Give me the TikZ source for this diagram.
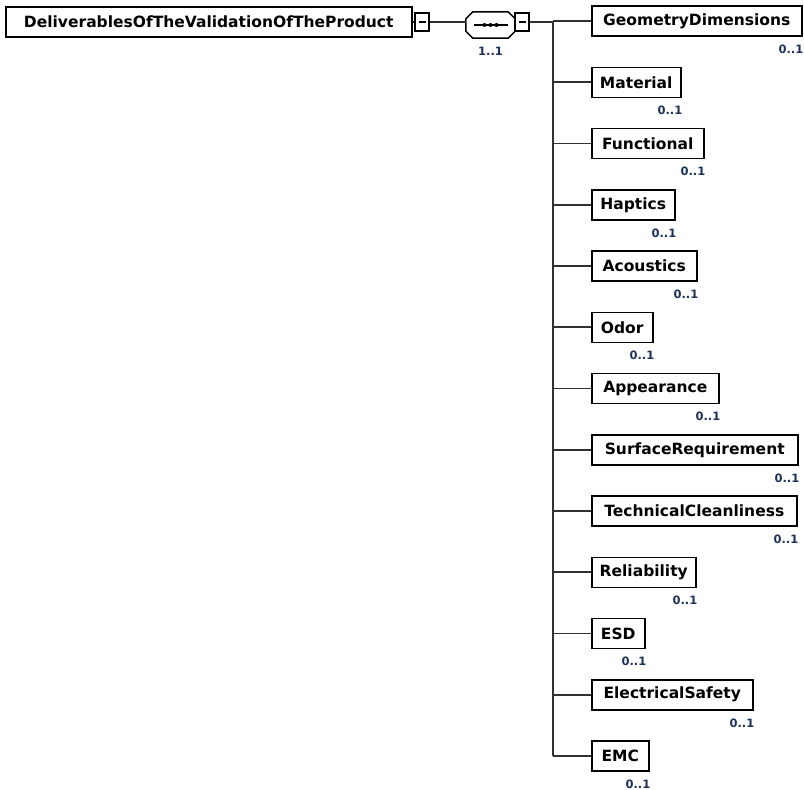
\documentclass[tikz,border=0pt]{standalone}
\usepackage{fontspec}
\newfontfamily\schemafont{DejaVu Sans}
\usetikzlibrary{calc}
\definecolor{linegray}{RGB}{50,50,50}
\definecolor{occurs}{RGB}{28,48,92}
\tikzset{
  elem/.style={draw,line width=1.5pt,inner xsep=0pt,minimum height=30pt,font=\schemafont\bfseries\fontsize{15.5}{17}\selectfont,anchor=west},
  minusbox/.style={draw,line width=1.2pt,minimum width=14pt,minimum height=18pt,inner sep=0pt},
  conn/.style={linegray,line width=1.6pt},
  card/.style={font=\schemafont\bfseries\fontsize{11.5}{12}\selectfont,text=occurs,inner sep=0pt,anchor=north east}
}

\begin{document}
\begin{tikzpicture}[x=1pt,y=-1pt]
\useasboundingbox (0,0) rectangle (804,790);
% root element and its collapse box
\node[elem,minimum width=406pt] (root) at (5,22) {DeliverablesOfTheValidationOfTheProduct};
\node[minusbox] (rootmin) at (422,22) {};
\draw[line width=1.2pt] ($(rootmin.center)+(-3.5,0)$) -- ($(rootmin.center)+(3.5,0)$);
% sequence compositor
\node[minimum width=49pt,minimum height=26pt,inner sep=0pt] (seq) at (490.5,25) {};
\draw[line width=1.5pt] ($(seq.north west)+(7,0)$) -- ($(seq.north east)+(-7,0)$) -- ($(seq.north east)+(0,7)$)
  -- ($(seq.south east)+(0,-7)$) -- ($(seq.south east)+(-7,0)$) -- ($(seq.south west)+(7,0)$)
  -- ($(seq.south west)+(0,-7)$) -- ($(seq.north west)+(0,7)$) -- cycle;
\draw[line width=1.5pt] ($(seq.center)+(-17,0)$) -- ($(seq.center)+(17,0)$);
\foreach \dx in {-6,0,6}
  \fill ($(seq.center)+(\dx,0)$) circle (2pt);
\node[card,anchor=north] at ($(seq.south)+(0,9)$) {1..1};
\node[minusbox] (seqmin) at (522,22) {};
\draw[line width=1.2pt] ($(seqmin.center)+(-3.5,0)$) -- ($(seqmin.center)+(3.5,0)$);
\coordinate (bus) at (553,22);
% connectors
\draw[conn] (root.east) -- (rootmin.west);
\draw[conn] (rootmin.east) -- (rootmin.east -| seq.west);
\draw[conn] (seqmin.east) -- (bus);
% child elements
\foreach \name/\label/\boxw [count=\i from 0] in {geom/GeometryDimensions/210, material/Material/89,
    functional/Functional/112, haptics/Haptics/83, acoustics/Acoustics/105, odor/Odor/61,
    appearance/Appearance/127, surface/SurfaceRequirement/206, cleanliness/TechnicalCleanliness/205,
    reliability/Reliability/104, esd/ESD/53, elsafety/ElectricalSafety/161, emc/EMC/57} {
  \node[elem,minimum width=\boxw pt] (\name) at (591,21+61.25*\i) {\label};
  \draw[conn] (bus |- \name.west) -- (\name.west);
  \node[card] at ($(\name.south east)+(1,8)$) {0..1};
}
\draw[conn] (bus) -- (bus |- emc.west);
\end{tikzpicture}
\end{document}
